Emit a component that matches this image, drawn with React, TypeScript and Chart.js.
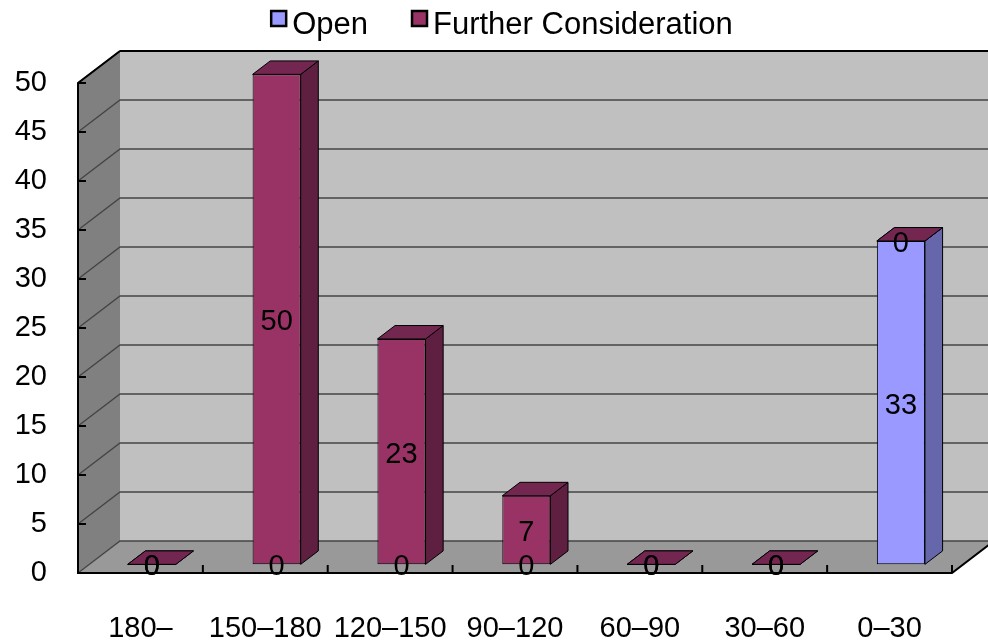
import React, { useEffect, useRef } from "react";
import { Chart, registerables } from "chart.js";

Chart.register(...registerables);

const categories = ["180–", "150–180", "120–150", "90–120", "60–90", "30–60", "0–30"];
const openValues = [0, 0, 0, 0, 0, 0, 33];
const furtherValues = [0, 50, 23, 7, 0, 0, 0];
const seriesNames = ["Open", "Further Consideration"];

// 3D look: how far the back wall sits from the front plane, and where the bars sit in depth
const DEPTH_X = 42;
const DEPTH_Y = -32;
const BAR_FRONT = 0.27;
const BAR_BACK = 0.69;
const FONT = "'Liberation Sans', Arial, sans-serif";

const faces = [
  { front: "#9999FF", side: "#6666AA", top: "#7C7CD0" },
  { front: "#993366", side: "#5E1F40", top: "#732650" },
];

function poly(ctx: CanvasRenderingContext2D, pts: number[][], fill?: string, stroke?: string) {
  ctx.beginPath();
  pts.forEach(([px, py], i) => (i ? ctx.lineTo(px, py) : ctx.moveTo(px, py)));
  ctx.closePath();
  if (fill) {
    ctx.fillStyle = fill;
    ctx.fill();
  }
  if (stroke) {
    ctx.strokeStyle = stroke;
    ctx.lineWidth = 1;
    ctx.stroke();
  }
}

function line(ctx: CanvasRenderingContext2D, pts: number[][]) {
  ctx.beginPath();
  pts.forEach(([px, py], i) => (i ? ctx.lineTo(px, py) : ctx.moveTo(px, py)));
  ctx.stroke();
}

const box3d = {
  id: "box3d",
  beforeDraw(chart: any) {
    const ctx: CanvasRenderingContext2D = chart.ctx;
    const { left: L, right: R, top: T, bottom: B } = chart.chartArea;
    const W = chart.width;
    const y = chart.scales.y;
    const x = chart.scales.x;
    ctx.save();
    // walls and floor
    ctx.fillStyle = "#C0C0C0";
    ctx.fillRect(L + DEPTH_X, T + DEPTH_Y, W - L - DEPTH_X, B - T);
    poly(ctx, [[L, T], [L + DEPTH_X, T + DEPTH_Y], [L + DEPTH_X, B + DEPTH_Y], [L, B]], "#808080");
    poly(ctx, [[L, B], [R, B], [R + DEPTH_X, B + DEPTH_Y], [L + DEPTH_X, B + DEPTH_Y]], "#999999");

    // grid lines on side and back wall
    ctx.strokeStyle = "#444";
    ctx.lineWidth = 1.3;
    y.ticks.forEach((t: any) => {
      const yy = y.getPixelForValue(t.value);
      line(ctx, [[L, yy], [L + DEPTH_X, yy + DEPTH_Y], [W, yy + DEPTH_Y]]);
    });

    // axis lines and tick marks
    ctx.strokeStyle = "#000";
    ctx.lineWidth = 2;
    line(ctx, [[L + DEPTH_X, T + DEPTH_Y], [W, T + DEPTH_Y]]);
    line(ctx, [[L + DEPTH_X, T + DEPTH_Y], [L, T], [L, B], [R, B], [R + DEPTH_X, B + DEPTH_Y]]);
    y.ticks.forEach((t: any) => {
      const yy = y.getPixelForValue(t.value);
      line(ctx, [[L, yy], [L + 8, yy]]);
    });
    const step = x.getPixelForValue(1) - x.getPixelForValue(0);
    categories.forEach((_, i) => {
      const xx = x.getPixelForValue(i) + step / 2;
      line(ctx, [[xx, B], [xx, B - 8]]);
    });
    ctx.restore();
  },
  beforeDatasetsDraw(chart: any) {
    chart.ctx.save();
    chart.ctx.translate(DEPTH_X * BAR_FRONT, DEPTH_Y * BAR_FRONT);
  },
  afterDatasetsDraw(chart: any) {
    const ctx: CanvasRenderingContext2D = chart.ctx;
    ctx.restore();
    const ox = DEPTH_X * BAR_FRONT;
    const oy = DEPTH_Y * BAR_FRONT;
    const sx = DEPTH_X * (BAR_BACK - BAR_FRONT);
    const sy = DEPTH_Y * (BAR_BACK - BAR_FRONT);
    const sets = chart.data.datasets;
    ctx.save();
    sets.forEach((ds: any, di: number) => {
      const meta = chart.getDatasetMeta(di);
      meta.data.forEach((el: any, i: number) => {
        const { x, y, base, width } = el.getProps(["x", "y", "base", "width"], true);
        const xl = x - width / 2 + ox;
        const xr = x + width / 2 + ox;
        const yt = Math.min(y, base) + oy;
        const yb = Math.max(y, base) + oy;
        if (yb - yt > 0.5) {
          poly(ctx, [[xr, yt], [xr + sx, yt + sy], [xr + sx, yb + sy], [xr, yb]], faces[di].side, "#000");
        }
        const covered = sets.slice(di + 1).some((o: any) => o.data[i] > 0);
        if (!covered) {
          poly(ctx, [[xl, yt], [xl + sx, yt + sy], [xr + sx, yt + sy], [xr, yt]], faces[di].top, "#000");
        }
      });
    });
    // value labels
    ctx.fillStyle = "#000";
    ctx.font = `29px ${FONT}`;
    ctx.textAlign = "center";
    ctx.textBaseline = "middle";
    sets.forEach((ds: any, di: number) => {
      const meta = chart.getDatasetMeta(di);
      meta.data.forEach((el: any, i: number) => {
        const { x, y, base } = el.getProps(["x", "y", "base"], true);
        ctx.fillText(String(ds.data[i]), x + ox, (y + base) / 2 + oy + 3);
      });
    });
    ctx.restore();
  },
  afterDraw(chart: any) {
    // Excel-style legend: small bordered squares, tight to their text
    const ctx: CanvasRenderingContext2D = chart.ctx;
    const sets = chart.data.datasets;
    const box = 15;
    const gap = 6;
    const itemGap = 44;
    ctx.save();
    ctx.font = `31px ${FONT}`;
    const widths = sets.map((ds: any) => box + gap + ctx.measureText(ds.label).width);
    const total = widths.reduce((a: number, b: number) => a + b, 0) + itemGap * (sets.length - 1);
    let cx = chart.width / 2 + 8 - total / 2;
    const cy = 24;
    sets.forEach((ds: any, di: number) => {
      ctx.fillStyle = faces[di].front;
      ctx.fillRect(cx, cy - 13, box, box);
      ctx.strokeStyle = "#000";
      ctx.lineWidth = 2.5;
      ctx.strokeRect(cx, cy - 13, box, box);
      ctx.fillStyle = "#000";
      ctx.textAlign = "left";
      ctx.textBaseline = "middle";
      ctx.fillText(ds.label, cx + box + gap, cy + 1);
      cx += widths[di] + itemGap;
    });
    ctx.restore();
  },
};

export default function App() {
  const canvasRef = useRef<HTMLCanvasElement | null>(null);
  const chartRef = useRef<any>(null);

  useEffect(() => {
    if (!canvasRef.current) return;
    if (chartRef.current) chartRef.current.destroy();

    chartRef.current = new Chart(canvasRef.current, {
      type: "bar",
      data: {
        labels: categories,
        datasets: [
          {
            label: seriesNames[0],
            data: openValues,
            backgroundColor: faces[0].front,
            borderColor: "#000",
            borderWidth: 1,
            borderSkipped: false,
            clip: false as any,
          },
          {
            label: seriesNames[1],
            data: furtherValues,
            backgroundColor: faces[1].front,
            borderColor: "#000",
            borderWidth: 1,
            borderSkipped: false,
            clip: false as any,
          },
        ],
      },
      options: {
        responsive: true,
        maintainAspectRatio: false,
        animation: false,
        datasets: { bar: { categoryPercentage: 1, barPercentage: 0.385 } },
        layout: { padding: { top: 83, right: 36, left: 0, bottom: 0 } },
        plugins: {
          tooltip: { enabled: false },
          legend: { display: false },
        },
        scales: {
          x: {
            stacked: true,
            grid: { display: false, drawTicks: false },
            border: { display: false },
            ticks: {
              color: "#000",
              font: { size: 29, family: FONT },
              padding: 39,
              maxRotation: 0,
              autoSkip: false,
            },
            afterFit: (s: any) => {
              s.height = 67;
            },
          },
          y: {
            stacked: true,
            min: 0,
            max: 50,
            grid: { display: false, drawTicks: false },
            border: { display: false },
            ticks: {
              stepSize: 5,
              color: "#000",
              font: { size: 29, family: FONT },
              padding: 31,
            },
            afterFit: (s: any) => {
              s.width = 78;
            },
          },
        },
      },
      plugins: [box3d],
    });

    return () => {
      if (chartRef.current) {
        chartRef.current.destroy();
        chartRef.current = null;
      }
    };
  }, []);

  return (
    <div style={{ position: "fixed", left: 0, top: 0, width: 988, height: 640, background: "#fff" }}>
      <canvas ref={canvasRef}></canvas>
    </div>
  );
}
